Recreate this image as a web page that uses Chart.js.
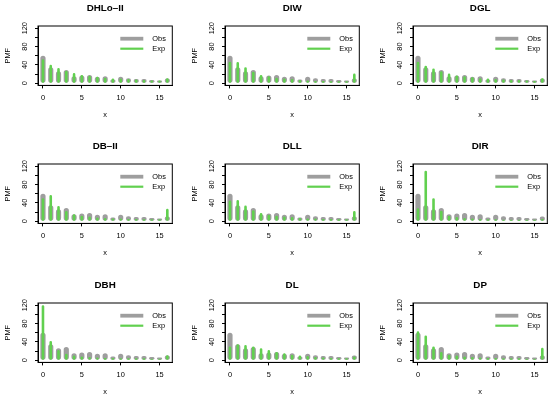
<!DOCTYPE html>
<html><head><meta charset="utf-8">
<script src="https://cdn.jsdelivr.net/npm/chart.js@4"></script>
<style>
html,body{margin:0;padding:0;background:#fff;width:550px;height:399px;overflow:hidden;position:relative}
canvas{position:absolute}
</style></head><body>
<script>
// ---------- data ----------
const xValues   = [0,1,2,3,4,5,6,7,8,9,10,11,12,13,14,15,16];
const observed  = [60,35,26,29,15,17,18,14,15,8,14,11,9,9,7,6,10];
const panelTitles = ['DHLo\u2013II','DIW','DGL','DB\u2013II','DLL','DIR','DBH','DL','DP'];
const expDHLoII = [52,40,33,27,22,18,16,14,12,10,10,9,8,7,6,6,11];
const expDIW    = [47,46,35,25,18,15,12,10,9,7,6,5,5,4,4,4,21];
const expDGL    = [47,38,32,26,21,17,15,13,11,10,9,8,7,7,6,5,11];
const expDBII   = [50,57,33,22,15,12,10,8,7,6,6,5,5,4,4,4,27];
const expDLL    = [45,46,34,24,18,14,12,10,9,7,6,6,5,5,4,4,22];
const expDIR    = [28,110,50,23,12,9,7,6,5,4,4,3,3,3,3,3,5];
const expDBH    = [120,42,22,14,10,8,7,6,5,5,4,4,4,4,3,3,11];
const expDL     = [30,35,33,30,26,22,18,15,12,10,9,7,6,5,4,4,8];
const expDP     = [63,54,30,18,12,10,8,7,6,5,5,4,4,4,3,3,27];
const expectedSeries = [expDHLoII,expDIW,expDGL,expDBII,expDLL,expDIR,expDBH,expDL,expDP];
const xTicks = [0,5,10,15];
const yTicks = [0,20,40,60,80,100,120];
const yTickLabels = ['0','','40','','80','','120'];
const seriesLabels = ['Obs','Exp'];

// ---------- style ----------
const GRAY = '#9E9E9E', GREEN = '#61D04F';
const FONT = '"Liberation Sans", Arial, sans-serif';
const SMALL = 7.4;

const framePlugin = {
  id: 'frame',
  afterDraw(chart) {
    const {ctx, chartArea: a} = chart;
    ctx.save();
    ctx.strokeStyle = '#000'; ctx.lineWidth = 1;
    ctx.strokeRect(a.left, a.top, a.right - a.left, a.bottom - a.top);
    const ds = chart.data.datasets;
    const order = [1, 0]; // Obs then Exp
    order.forEach((di, k) => {
      const d = ds[di];
      const y = a.top + 12.7 + 10 * k;
      ctx.strokeStyle = d.backgroundColor; ctx.lineWidth = d.legendWidth; ctx.lineCap = 'butt';
      ctx.beginPath(); ctx.moveTo(a.right - 52, y); ctx.lineTo(a.right - 29, y); ctx.stroke();
      ctx.fillStyle = '#000'; ctx.font = SMALL + 'px ' + FONT;
      ctx.textBaseline = 'middle'; ctx.textAlign = 'left';
      ctx.fillText(d.label, a.right - 20, y);
    });
    ctx.restore();
  }
};

const W = 180, H = 125, YW = 37, XH = 40.6, TITLEH = 25, TSIZE = 9.8;
for (let i = 0; i < 9; i++) {
  const c = i % 3, r = Math.floor(i / 3);
  const cv = document.createElement('canvas');
  cv.width = W; cv.height = H;
  cv.style.left = Math.round(0.7 + 187.5 * c) + 'px';
  cv.style.top = Math.round(0.5 + 138.7 * r) + 'px';
  document.body.appendChild(cv);
  new Chart(cv, {
    type: 'bar',
    data: {
      datasets: [
        { label: seriesLabels[1], data: xValues.map((x, k) => ({x, y: expectedSeries[i][k]})),
          backgroundColor: GREEN, maxBarThickness: 2.6, borderRadius: 1.3, borderSkipped: false,
          inflateAmount: 0, grouped: false, order: 0, legendWidth: 2.2 },
        { label: seriesLabels[0], data: xValues.map((x, k) => ({x, y: observed[k]})),
          backgroundColor: GRAY, maxBarThickness: 5.2, borderRadius: 2.6, borderSkipped: false,
          inflateAmount: 0, grouped: false, order: 1, legendWidth: 3.8 }
      ]
    },
    options: {
      responsive: false, animation: false, devicePixelRatio: 1,
      layout: { padding: { left: 0, right: W - YW - 134.3, top: 0, bottom: 0 } },
      plugins: {
        legend: { display: false }, tooltip: { enabled: false },
        title: { display: true, fullSize: false, text: panelTitles[i], color: '#000',
          font: { family: FONT, size: TSIZE, weight: 'bold', lineHeight: 1.2 },
          padding: { top: 1.6, bottom: TITLEH - 1.6 - TSIZE * 1.2 } }
      },
      scales: {
        x: {
          type: 'linear', min: -0.64, max: 16.64, offset: false,
          afterBuildTicks: s => { s.ticks = xTicks.map(v => ({value: v})); },
          afterFit: s => { s.height = XH; },
          grid: { offset: false, drawOnChartArea: false, drawTicks: true, tickLength: 3, color: '#000' },
          border: { display: true, color: '#000', width: 1 },
          ticks: { color: '#000', font: { family: FONT, size: SMALL }, padding: 5.5, maxRotation: 0, autoSkip: false },
          title: { display: true, text: 'x', color: '#000', font: { family: FONT, size: SMALL, lineHeight: 1.2 },
            padding: { top: 0, bottom: 6.5 } }
        },
        y: {
          type: 'linear', min: -4.8, max: 124.8,
          afterBuildTicks: s => { s.ticks = yTicks.map(v => ({value: v})); },
          afterFit: s => { s.width = YW; },
          grid: { drawOnChartArea: false, drawTicks: true, tickLength: 3, color: '#000' },
          border: { display: true, color: '#000', width: 1 },
          ticks: { color: '#000', font: { family: FONT, size: SMALL }, padding: 4.2, autoSkip: false,
            minRotation: 90, maxRotation: 90, crossAlign: 'center',
            callback: (v) => yTickLabels[yTicks.indexOf(v)] },
          title: { display: true, text: 'PMF', color: '#000', font: { family: FONT, size: SMALL, lineHeight: 1.2 },
            padding: { top: 2.8, bottom: 0 } }
        }
      }
    },
    plugins: [framePlugin]
  });
}
</script>
</body></html>
